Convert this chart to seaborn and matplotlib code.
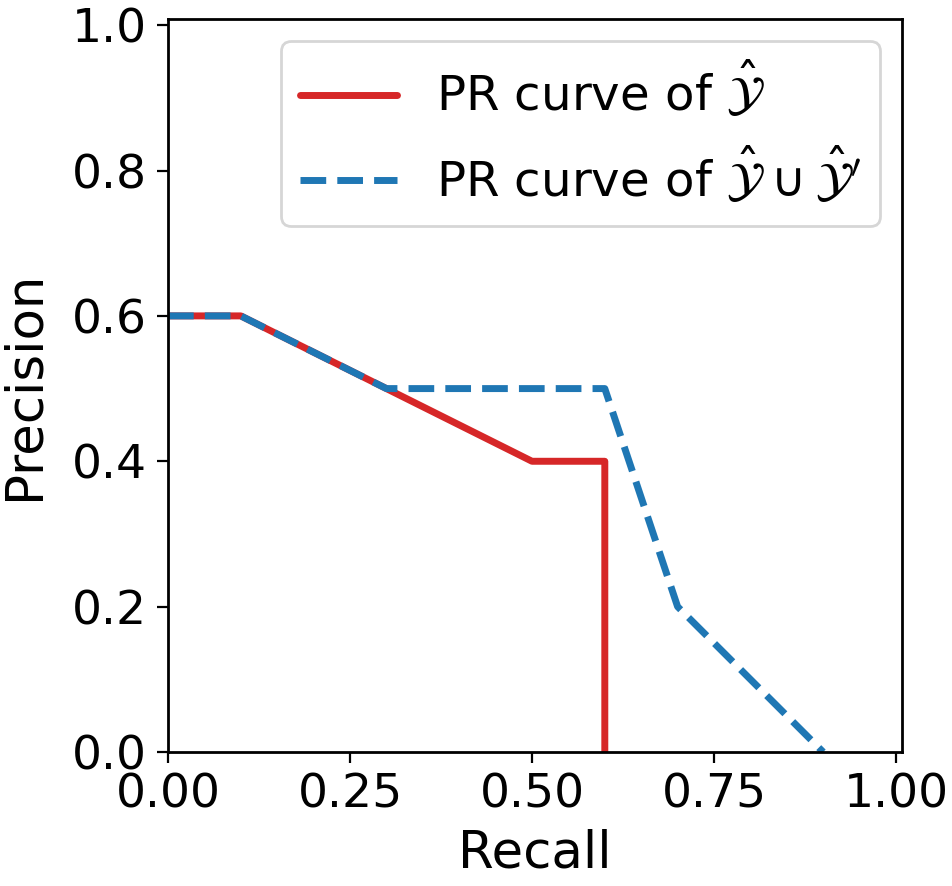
import seaborn as sns
import matplotlib.pyplot as plt
import pandas as pd

sns.set_style("ticks", {"text.color": "black", "axes.labelcolor": "black",
                        "xtick.color": "black", "ytick.color": "black",
                        "axes.edgecolor": "black"})
plt.rcParams["font.family"] = ["DejaVu Sans"]

# PR curve points
recall_y = [0.0, 0.1, 0.3, 0.5, 0.6, 0.6]
precision_y = [0.6, 0.6, 0.5, 0.4, 0.4, 0.0]

recall_union = [0.0, 0.1, 0.3, 0.6, 0.7, 0.9]
precision_union = [0.6, 0.6, 0.5, 0.5, 0.2, 0.0]

label_y = r"PR curve of $\hat{\mathcal{Y}}$"
label_union = r"PR curve of $\hat{\mathcal{Y}} \cup \hat{\mathcal{Y}}'$"

df_y = pd.DataFrame({"Recall": recall_y, "Precision": precision_y})
df_u = pd.DataFrame({"Recall": recall_union, "Precision": precision_union})

fig = plt.figure(figsize=(4.765, 4.43))
ax = fig.add_axes([0.1763, 0.1512, 0.770, 0.827])

sns.lineplot(data=df_y, x="Recall", y="Precision", sort=False, estimator=None,
             color="#d62728", linewidth=2.5, label=label_y, ax=ax)
sns.lineplot(data=df_u, x="Recall", y="Precision", sort=False, estimator=None,
             color="#1f77b4", linewidth=2.5, linestyle="--", label=label_union, ax=ax)

ax.set_xlim(0, 1.008)
ax.set_ylim(0, 1.008)
ax.set_xticks([0.0, 0.25, 0.5, 0.75, 1.0])
ax.set_yticks([0.0, 0.2, 0.4, 0.6, 0.8, 1.0])
ax.set_xticklabels(["0.00", "0.25", "0.50", "0.75", "1.00"])
ax.set_yticklabels(["0.0", "0.2", "0.4", "0.6", "0.8", "1.0"])
ax.tick_params(labelsize=17, width=0.8, length=4, pad=3.5)
ax.set_xlabel("Recall", fontsize=18.5, labelpad=4)
ax.set_ylabel("Precision", fontsize=18.5, labelpad=8)
for s in ax.spines.values():
    s.set_linewidth(1.0)

ax.legend(loc="upper right", fontsize=17.4, frameon=True, handlelength=2.0,
          borderaxespad=0.45)

fig.savefig("out.png", dpi=200)
plt.close(fig)
